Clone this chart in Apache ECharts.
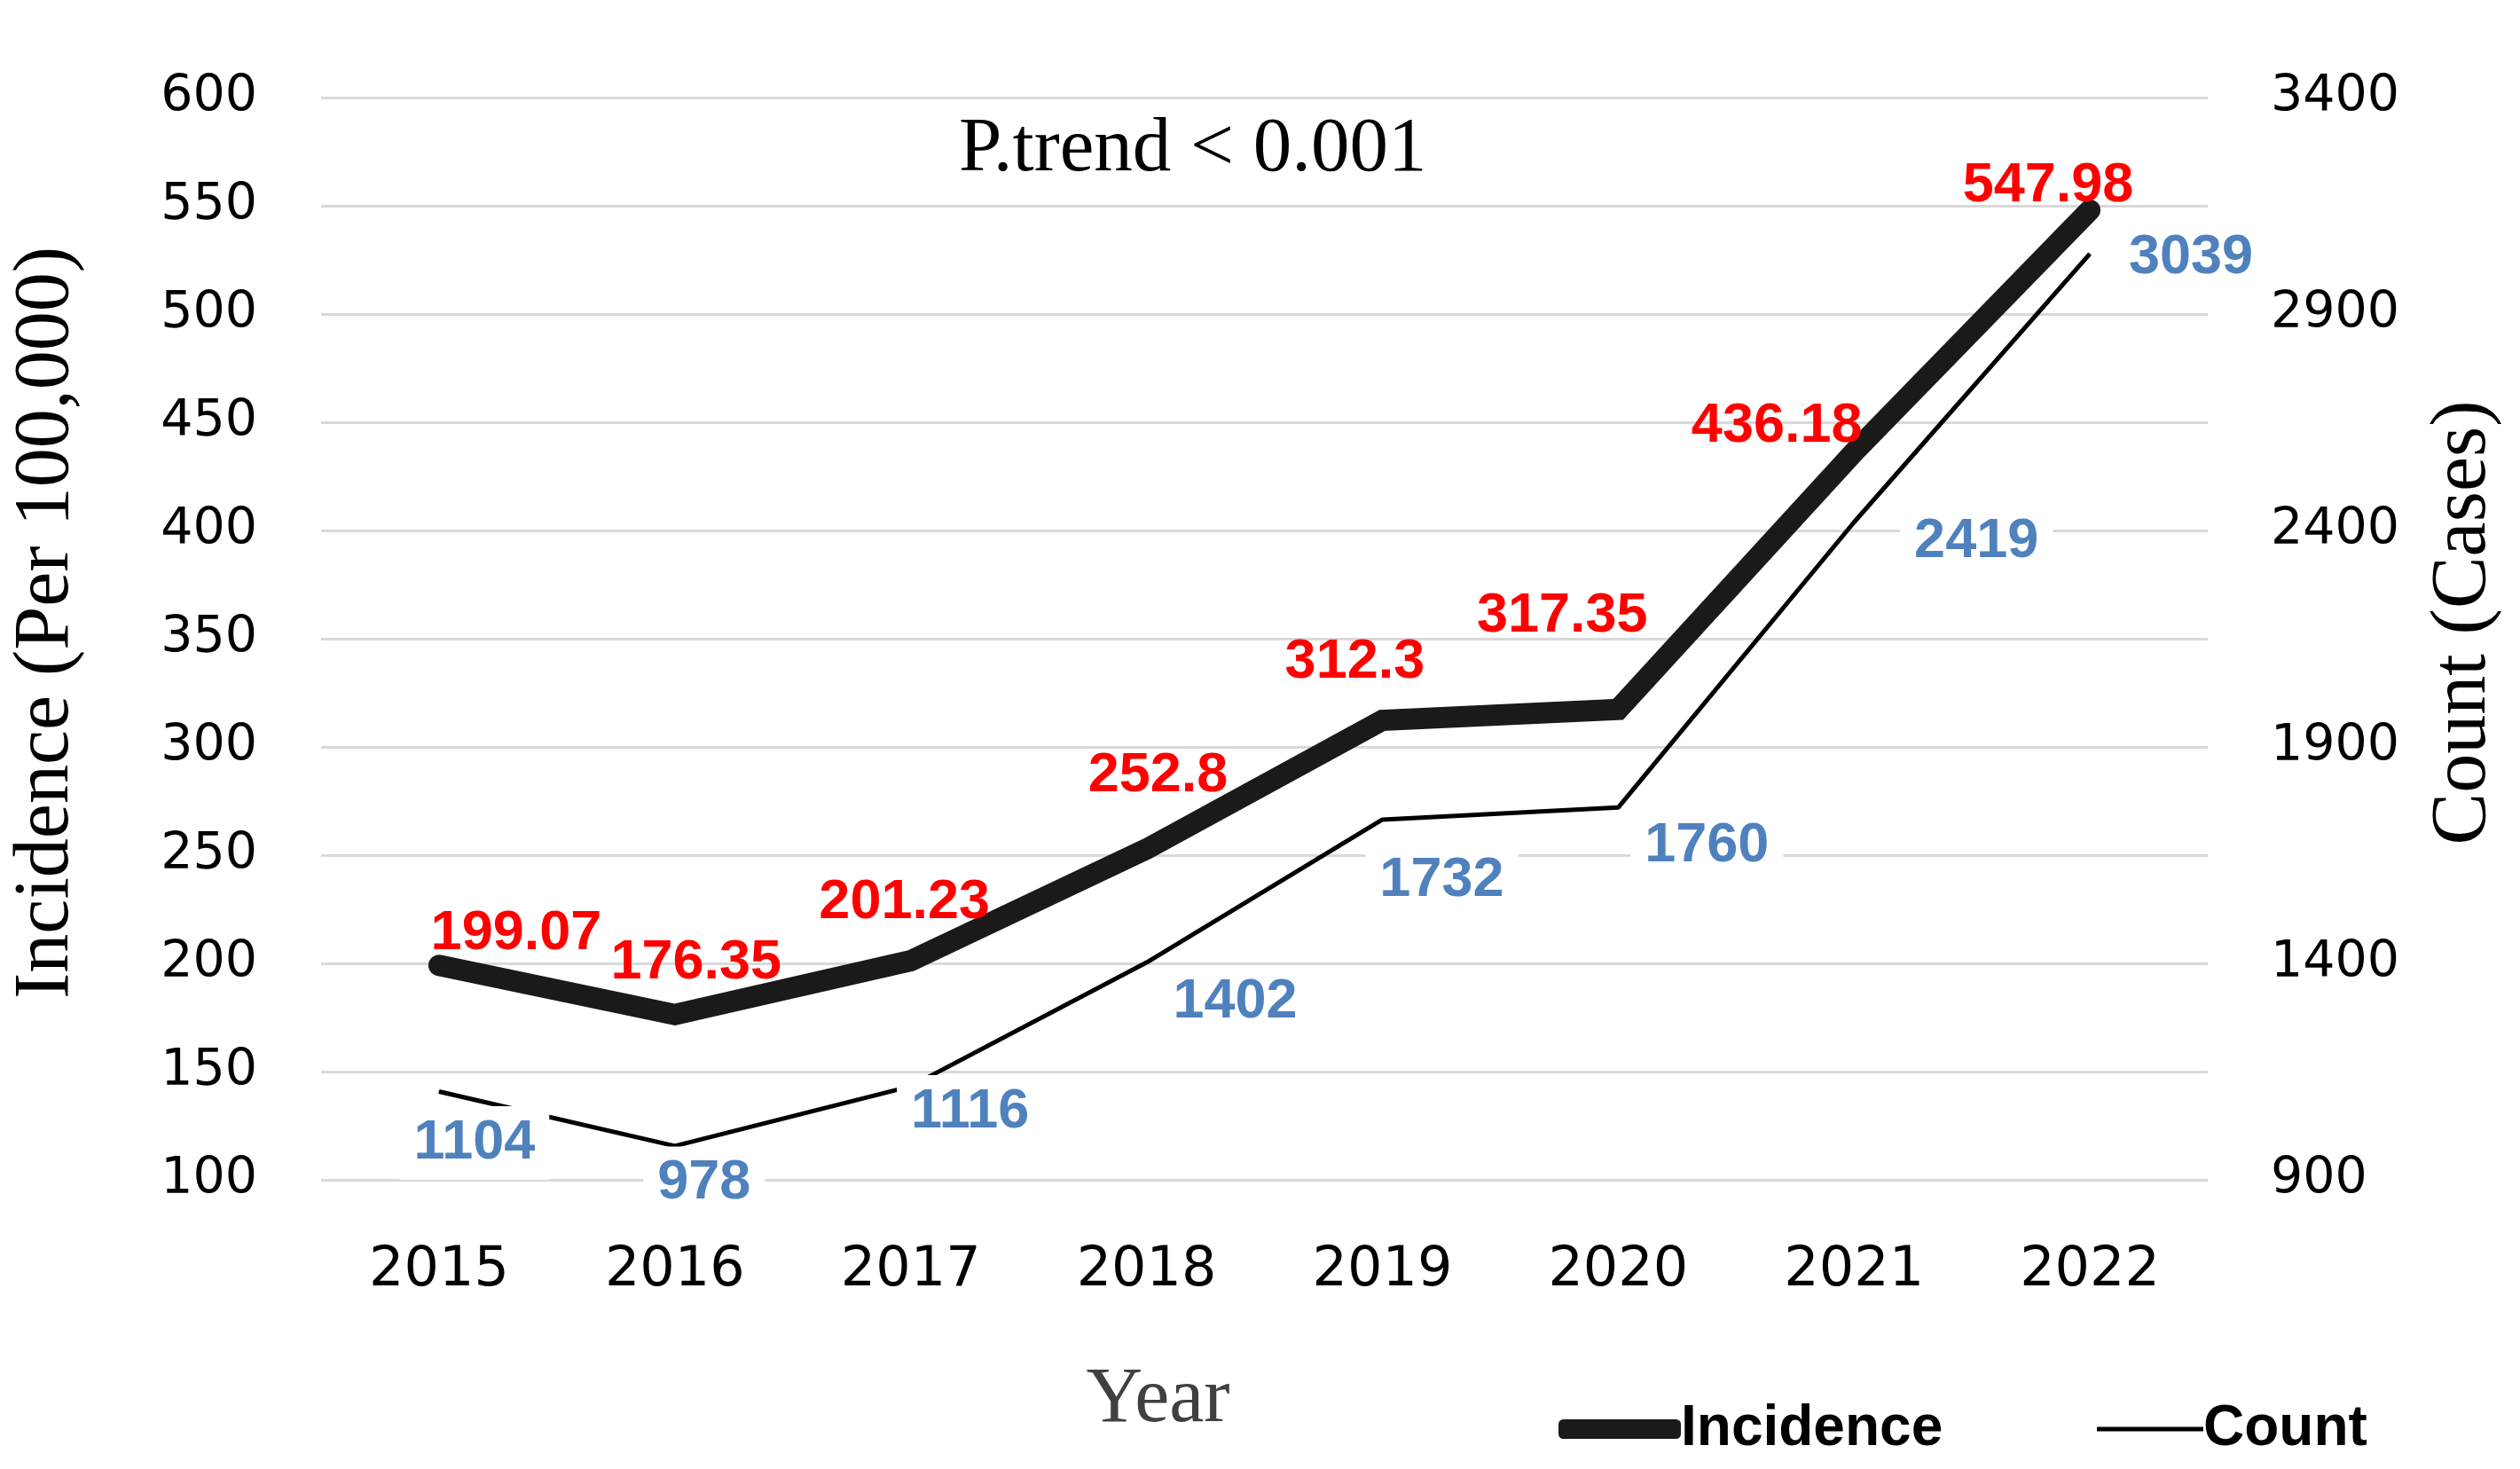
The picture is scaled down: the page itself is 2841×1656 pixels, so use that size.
<!DOCTYPE html>
<html>
<head>
<meta charset="utf-8">
<title>Incidence and Count</title>
<script src="https://cdn.jsdelivr.net/npm/echarts@6/dist/echarts.min.js"></script>
<style>
  html, body { margin: 0; padding: 0; background: #fff; }
  #chart { width: 2841px; height: 1656px; }
</style>
</head>
<body>
<div id="chart"></div>
<script>
// data
var years = ['2015', '2016', '2017', '2018', '2019', '2020', '2021', '2022']
var incidence = [199.07, 176.35, 201.23, 252.8, 312.3, 317.35, 436.18, 547.98]
var count = [1104, 978, 1116, 1402, 1732, 1760, 2419, 3039]

// label nudges (px), kept apart from the values
var incidenceLabelShift = [[87, -36], [24, -58], [-7, -65], [13, -83], [-31, -65], [-63, -105], [-87, -29], [-47, -27]]
var countLabelShift = [[40, 58], [33, 42], [67, 29], [100, 45], [67, 69], [100, 43], [138, 22], [114, 4]]

var boldSans = '"Liberation Sans", Arial, sans-serif'
var serif = '"Liberation Serif", "Times New Roman", serif'
var tickFont = '"DejaVu Sans", sans-serif'

function withLabels(values, shifts) {
  return values.map(function (v, i) {
    return { value: v, label: { offset: shifts[i] } }
  })
}

var myChart = echarts.init(document.getElementById('chart'))
var option = {
  backgroundColor: '#ffffff',
  animation: false,
  grid: {
    left: 362,
    right: 352,
    top: 110,
    bottom: 326
  },
  graphic: [{
    type: 'text',
    left: 1346 - 265,
    top: 126,
    style: {
      text: 'P.trend < 0.001',
      font: '87px ' + serif,
      fill: '#000'
    }
  }],
  legend: [{
    data: ['Incidence'],
    left: 1752,
    top: 1574,
    icon: 'roundRect',
    itemWidth: 138,
    itemHeight: 22,
    itemGap: 0,
    textStyle: { fontFamily: boldSans, fontWeight: 'bold', fontSize: 64, color: '#000', padding: [0, 0, 0, -5] }
  }, {
    data: ['Count'],
    left: 2359,
    top: 1574,
    icon: 'rect',
    itemWidth: 120,
    itemHeight: 5,
    itemGap: 0,
    textStyle: { fontFamily: boldSans, fontWeight: 'bold', fontSize: 64, color: '#000', padding: [0, 0, 0, -5] }
  }],
  xAxis: {
    type: 'category',
    data: years,
    boundaryGap: true,
    name: 'Year',
    nameLocation: 'middle',
    nameGap: 205,
    nameTextStyle: {
      fontFamily: serif,
      fontSize: 88,
      color: '#404040',
      padding: [0, 240, 0, 0]
    },
    axisLine: { show: false },
    axisTick: { show: false },
    axisLabel: {
      margin: 72,
      fontFamily: tickFont,
      fontSize: 62,
      color: '#000'
    }
  },
  yAxis: [{
    type: 'value',
    min: 100,
    max: 600,
    interval: 50,
    name: 'Incidence (Per 100,000)',
    nameLocation: 'middle',
    nameRotate: 90,
    nameGap: 265,
    nameTextStyle: { fontFamily: serif, fontSize: 88, color: '#000', padding: [0, 0, 0, 36] },
    axisLine: { show: false },
    axisTick: { show: false },
    axisLabel: {
      margin: 72,
      fontFamily: tickFont,
      fontSize: 57,
      color: '#000'
    },
    splitLine: { lineStyle: { color: '#d9d9d9', width: 3 } }
  }, {
    type: 'value',
    min: 900,
    max: 3400,
    interval: 500,
    name: 'Count (Cases)',
    nameLocation: 'middle',
    nameRotate: 90,
    nameGap: 245,
    nameTextStyle: { fontFamily: serif, fontSize: 88, color: '#000', padding: [0, 0, 0, 36] },
    axisLine: { show: false },
    axisTick: { show: false },
    axisLabel: {
      margin: 71,
      fontFamily: tickFont,
      fontSize: 57,
      color: '#000',
      formatter: function (v) { return String(v) }
    },
    splitLine: { show: false }
  }],
  series: [{
    name: 'Incidence',
    type: 'line',
    yAxisIndex: 0,
    data: withLabels(incidence, incidenceLabelShift),
    symbol: 'circle',
    symbolSize: 1,
    itemStyle: { color: '#1a1a1a' },
    lineStyle: { color: '#1a1a1a', width: 24, cap: 'round', join: 'miter' },
    label: {
      show: true,
      position: 'inside',
      align: 'center',
      verticalAlign: 'middle',
      fontFamily: boldSans,
      fontWeight: 'bold',
      fontSize: 63,
      color: '#ff0000'
    },
    z: 3
  }, {
    name: 'Count',
    type: 'line',
    yAxisIndex: 1,
    data: withLabels(count, countLabelShift),
    symbol: 'circle',
    symbolSize: 1,
    itemStyle: { color: '#000' },
    lineStyle: { color: '#000', width: 5 },
    label: {
      show: true,
      position: 'inside',
      align: 'center',
      verticalAlign: 'middle',
      fontFamily: boldSans,
      fontWeight: 'bold',
      fontSize: 63,
      color: '#4f81bd',
      backgroundColor: '#ffffff',
      padding: [10, 16]
    },
    z: 2
  }]
}
myChart.setOption(option)
window.addEventListener('resize', function () {
  myChart.resize()
})
</script>
</body>
</html>
